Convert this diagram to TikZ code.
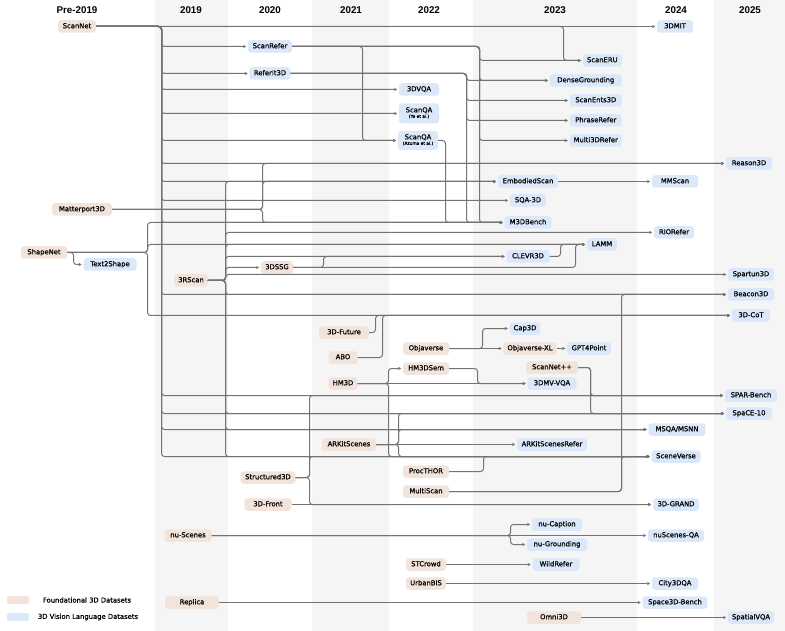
\documentclass[tikz,border=0pt]{standalone}
\usepackage{fontspec}
\setmainfont{DejaVu Sans}
\newfontfamily\nodefont{DejaVu Sans}[FakeBold=0.8]
\newfontfamily\yearfont{Liberation Sans}
\usetikzlibrary{arrows.meta}

\definecolor{fndfill}{HTML}{F2E4DA}
\definecolor{vlfill}{HTML}{DBE8FA}
\definecolor{colgray}{HTML}{F5F5F5}
\definecolor{linkgray}{HTML}{737373}

% connector: out of the source, down/up a vertical bus at x=#3, into the target
\newcommand{\linkvia}[3]{\draw[link] (#1.east) -- (#3,0 |- #1.east) |- (#2.west);}
\newcommand{\linkto}[2]{\draw[link] (#1.east) -- (#2.west);}

\begin{document}
\begin{tikzpicture}[x=1pt, y=-1pt,
    dset/.style={rounded corners=3pt, inner xsep=4pt, inner ysep=0pt, minimum height=12.5pt,
        text height=5pt, text depth=1.5pt, font=\nodefont\fontsize{6.8}{8}\selectfont},
    fnd/.style={dset, fill=fndfill},
    vl/.style={dset, fill=vlfill},
    boxw/.style={minimum width=#1},
    year/.style={font=\yearfont\bfseries\fontsize{9.8}{11}\selectfont},
    legend/.style={font=\nodefont\fontsize{6.8}{8}\selectfont},
    link/.style={draw=linkgray, line width=1pt, rounded corners=3pt, blend mode=darken,
        -{Triangle[length=3pt,width=2.8pt]}, shorten >=1.5pt}
]
    \useasboundingbox (0,0) rectangle (785,631);
    \fill[white] (0,0) rectangle (785,631);

    % Year columns
    \fill[colgray] (155,0) rectangle (228,631);
    \fill[colgray] (312,0) rectangle (389,631);
    \fill[colgray] (473,0) rectangle (637,631);
    \fill[colgray] (714,0) rectangle (785,631);

    \node[year] (ypre) at (77,10) {Pre-2019};
    \node[year] (y19) at (191,10) {2019};
    \node[year] (y20) at (270,10) {2020};
    \node[year] (y21) at (351,10) {2021};
    \node[year] (y22) at (429,10) {2022};
    \node[year] (y23) at (555,10) {2023};
    \node[year] (y24) at (676,10) {2024};
    \node[year] (y25) at (750,10) {2025};

    % Pre-2019
    \node[fnd, boxw=38pt] (scannet) at (77,26.5) {ScanNet};
    \node[fnd, boxw=60pt] (mp3d) at (82,209.5) {Matterport3D};
    \node[fnd, boxw=46pt] (shapenet) at (44,252.5) {ShapeNet};
    \node[vl, boxw=53pt] (t2s) at (110,264.5) {Text2Shape};

    % 2019
    \node[fnd, boxw=33pt] (rscan) at (191,280.5) {3RScan};
    \node[fnd, boxw=47pt] (nuscenes) at (188,535.5) {nu-Scenes};
    \node[fnd, boxw=54pt] (replica) at (192,602.5) {Replica};

    % 2020
    \node[vl, boxw=44pt] (scanrefer) at (270,46.5) {ScanRefer};
    \node[vl, boxw=41pt] (referit) at (270,73.5) {ReferIt3D};
    \node[fnd, boxw=32pt] (dssg) at (277,267.5) {3DSSG};
    \node[fnd, boxw=55pt] (s3d) at (268,477.5) {Structured3D};
    \node[fnd, boxw=47pt] (front) at (268,504.5) {3D-Front};

    % 2021
    \node[fnd, boxw=50pt] (future) at (344,332.5) {3D-Future};
    \node[fnd, boxw=29pt] (abo) at (343,357.5) {ABO};
    \node[fnd, boxw=29pt] (hm3d) at (343,383.5) {HM3D};
    \node[fnd, boxw=54pt] (arkit) at (349,444.5) {ARKitScenes};

    % 2022
    \node[vl, boxw=40pt] (dvqa) at (419,89.5) {3DVQA};
    \node[vl, boxw=40pt, minimum height=20pt] (scanqaye) at (419,113.5)
        {\begin{tabular}{@{}c@{}}ScanQA\\[-2.5pt]{\fontsize{4.3}{4.5}\selectfont (Ye et al.)}\end{tabular}};
    \node[vl, boxw=40pt, minimum height=19pt] (scanqaaz) at (418,140.5)
        {\begin{tabular}{@{}c@{}}ScanQA\\[-2.5pt]{\fontsize{4.3}{4.5}\selectfont (Azuma et al.)}\end{tabular}};
    \node[fnd, boxw=46pt] (objaverse) at (426,348.5) {Objaverse};
    \node[fnd, boxw=46pt] (hm3dsem) at (426,368.5) {HM3DSem};
    \node[fnd, boxw=46pt] (procthor) at (426,471.5) {ProcTHOR};
    \node[fnd, boxw=46pt] (multiscan) at (426,491.5) {MultiScan};
    \node[fnd, boxw=40pt] (stcrowd) at (426,564.5) {STCrowd};
    \node[fnd, boxw=40pt] (urbanbis) at (426,583.5) {UrbanBIS};

    % 2023
    \node[vl, boxw=39pt, anchor=east] (scaneru) at (622,60.5) {ScanERU};
    \node[vl, boxw=72pt, anchor=east] (densegr) at (622,80.5) {DenseGrounding};
    \node[vl, boxw=52pt, anchor=east] (scanents) at (622,100.5) {ScanEnts3D};
    \node[vl, boxw=52pt, anchor=east] (phrase) at (622,120.5) {PhraseRefer};
    \node[vl, boxw=52pt, anchor=east] (multi3d) at (622,140.5) {Multi3DRefer};
    \node[vl, boxw=60pt] (embodied) at (528,181.5) {EmbodiedScan};
    \node[vl, boxw=36pt] (sqa) at (528,200.5) {SQA-3D};
    \node[vl, boxw=47pt] (m3dbench) at (528,222.5) {M3DBench};
    \node[vl, boxw=30pt] (lamm) at (602,244.5) {LAMM};
    \node[vl, boxw=43pt] (clevr) at (528,256.5) {CLEVR3D};
    \node[vl, boxw=26pt] (cap3d) at (525,328.5) {Cap3D};
    \node[fnd, boxw=53pt] (objxl) at (530,348.5) {Objaverse-XL};
    \node[vl, boxw=44pt] (gpt4point) at (589,348.5) {GPT4Point};
    \node[fnd, boxw=52pt] (scannetpp) at (552,367.5) {ScanNet++};
    \node[vl, boxw=49pt] (mvvqa) at (552,383.5) {3DMV-VQA};
    \node[vl, boxw=70pt] (arkitrefer) at (552,444.5) {ARKitScenesRefer};
    \node[vl, boxw=50pt] (nucaption) at (557,524.5) {nu-Caption};
    \node[vl, boxw=60pt] (nugrounding) at (557,544.5) {nu-Grounding};
    \node[vl, boxw=47pt] (wildrefer) at (556,564.5) {WildRefer};
    \node[fnd, boxw=54pt] (omni3d) at (554,617.5) {Omni3D};

    % 2024
    \node[vl, boxw=36pt] (dmit) at (675,26.5) {3DMIT};
    \node[vl, boxw=46pt] (mmscan) at (675,181.5) {MMScan};
    \node[vl, boxw=40pt] (riorefer) at (674,232.5) {RIORefer};
    \node[vl, boxw=57pt] (msqa) at (677,429.5) {MSQA/MSNN};
    \node[vl, boxw=49pt] (sceneverse) at (676,456.5) {SceneVerse};
    \node[vl, boxw=46pt] (grand) at (676,504.5) {3D-GRAND};
    \node[vl, boxw=56pt] (nuscenesqa) at (676,535.5) {nuScenes-QA};
    \node[vl, boxw=46pt] (city3dqa) at (675,583.5) {City3DQA};
    \node[vl, boxw=65pt] (space3d) at (675,602.5) {Space3D-Bench};

    % 2025
    \node[vl, boxw=46pt] (reason3d) at (749,163.5) {Reason3D};
    \node[vl, boxw=46pt] (spartun) at (751,274.5) {Spartun3D};
    \node[vl, boxw=46pt] (beacon) at (751,294.5) {Beacon3D};
    \node[vl, boxw=38pt] (cot) at (751,315.5) {3D-CoT};
    \node[vl, boxw=52pt] (spar) at (751,395.5) {SPAR-Bench};
    \node[vl, boxw=46pt] (space10) at (749,413.5) {SpaCE-10};
    \node[vl, boxw=46pt] (spatialvqa) at (751,617.5) {SpatialVQA};

    % Legend
    \fill[fndfill, rounded corners=1.5pt] (7,596) rectangle (29,604);
    \fill[vlfill, rounded corners=1.5pt] (7,613) rectangle (29,621);
    \node[legend] (legfnd) at (87,600) {Foundational 3D Datasets};
    \node[legend] (legvl) at (88,617) {3D Vision Language Datasets};

    % ScanNet
    \linkto{scannet}{dmit}
    \linkvia{scannet}{scaneru}{563.5}
    \foreach \t in {scanrefer,referit,dvqa,scanqaye,scanqaaz,reason3d,embodied,sqa,
                    m3dbench,beacon,spar,space10,msqa,sceneverse}
        {\linkvia{scannet}{\t}{161.5}}

    % ScanRefer / ReferIt3D / ScanQA
    \linkvia{scanrefer}{scanqaaz}{362.5}
    \foreach \t in {scaneru,densegr,multi3d,m3dbench} {\linkvia{scanrefer}{\t}{479.5}}
    \foreach \t in {densegr,scanents,phrase,m3dbench} {\linkvia{referit}{\t}{466.5}}
    \linkvia{scanqaaz}{m3dbench}{445.5}

    % Matterport3D
    \foreach \t in {reason3d,embodied,m3dbench} {\linkvia{mp3d}{\t}{262.5}}
    \linkto{embodied}{mmscan}

    % ShapeNet
    \linkvia{shapenet}{t2s}{73.5}
    \foreach \t in {m3dbench,lamm,cot} {\linkvia{shapenet}{\t}{147.5}}

    % 3RScan
    \foreach \t in {embodied,riorefer,lamm,clevr,dssg,spartun,beacon,space10,msqa,sceneverse}
        {\linkvia{rscan}{\t}{225.5}}
    \linkvia{dssg}{clevr}{323.5}
    \linkvia{dssg}{lamm}{575.5}
    \linkvia{clevr}{lamm}{560.5}

    % 3D-Future, ABO
    \linkvia{future}{cot}{375.5}
    \linkvia{abo}{cot}{382.5}

    % Objaverse
    \linkvia{objaverse}{cap3d}{482.5}
    \linkto{objaverse}{objxl}
    \linkto{objxl}{gpt4point}

    % HM3D
    \linkvia{hm3d}{hm3dsem}{388.5}
    \linkto{hm3d}{mvvqa}
    \linkvia{hm3d}{sceneverse}{388.5}
    \linkvia{hm3dsem}{mvvqa}{477.5}

    % ScanNet++
    \foreach \t in {spar,space10} {\linkvia{scannetpp}{\t}{590.5}}

    % ARKitScenes
    \linkto{arkit}{arkitrefer}
    \foreach \t in {space10,msqa,sceneverse} {\linkvia{arkit}{\t}{398.5}}

    % Structured3D, 3D-Front, ProcTHOR, MultiScan
    \foreach \t in {spar,sceneverse,grand} {\linkvia{s3d}{\t}{309.5}}
    \linkto{front}{grand}
    \linkvia{procthor}{sceneverse}{483.5}
    \foreach \t in {sceneverse,beacon} {\linkvia{multiscan}{\t}{621.5}}

    % Outdoor and others
    \foreach \t in {nucaption,nugrounding} {\linkvia{nuscenes}{\t}{510.5}}
    \linkto{nuscenes}{nuscenesqa}
    \linkto{stcrowd}{wildrefer}
    \linkto{urbanbis}{city3dqa}
    \linkto{replica}{space3d}
    \linkto{omni3d}{spatialvqa}

\end{tikzpicture}
\end{document}
